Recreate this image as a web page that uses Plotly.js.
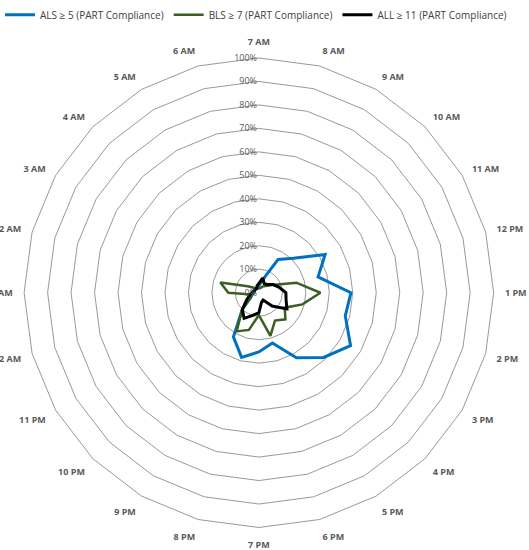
<!DOCTYPE html>
<html>
<head>
<meta charset="utf-8">
<script src="https://cdn.plot.ly/plotly-3.0.1.min.js"></script>
<style>html,body{margin:0;padding:0;background:#fff;}#chart{width:529px;height:550px;}</style>
</head>
<body>
<div id="chart"></div>
<script>
const hours = ['7 AM','8 AM','9 AM','10 AM','11 AM','12 PM','1 PM','2 PM','3 PM','4 PM','5 PM','6 PM',
               '7 PM','8 PM','9 PM','10 PM','11 PM','12 AM','1 AM','2 AM','3 AM','4 AM','5 AM','6 AM'];
const alsValues = [3, 5.5, 16.4, 20.8, 32.6, 26.1, 39.2, 38.1, 45.1, 39, 32, 22.2,
                   25.2, 28.5, 21.7, 10, 4, 3, 2, 2, 2, 2, 2, 2];
const blsValues = [2, 2, 3, 4, 6.5, 16.5, 26.2, 19.2, 12.7, 16, 13.7, 19,
                   9.5, 16.4, 19, 10, 4, 3, 13, 17, 5.5, 3, 2, 2];
const allValues = [4, 6.5, 4.5, 5, 7, 9, 11.5, 12, 13.8, 8, 3.6, 4.3,
                   8.5, 10, 12.6, 10, 6, 4, 3, 2.5, 2, 2, 2, 3];
const seriesNames = ['ALS \u2265 5 (PART Compliance)', 'BLS \u2265 7 (PART Compliance)', 'ALL \u2265 11 (PART Compliance)'];
const radialTicks = [0,10,20,30,40,50,60,70,80,90,100];

const colors = ['#0070C0', '#3A5F22', '#000000'];
const widths = [3, 2.5, 3];
const data = [alsValues, blsValues, allValues].map((vals, i) => ({
  type: 'scatterpolar',
  mode: 'lines',
  name: seriesNames[i],
  r: vals.concat([vals[0]]),
  theta: hours.concat([hours[0]]),
  line: {color: colors[i], width: widths[i]},
  hoverinfo: 'skip'
}));

const W = 529, H = 550;
const cx = 256.3, cy = 291.8, R = 237;
const layout = {
  width: W, height: H,
  margin: {l: 0, r: 0, t: 0, b: 0},
  paper_bgcolor: '#fff',
  font: {family: 'Open Sans, Liberation Sans, sans-serif', color: '#595959'},
  showlegend: true,
  legend: {
    orientation: 'h', x: -0.01, xanchor: 'left', y: 1.003, yanchor: 'top',
    font: {size: 10, color: '#404040', family: 'Open Sans, sans-serif'},
    itemwidth: 30,
    bgcolor: 'rgba(0,0,0,0)'
  },
  polar: {
    domain: {x: [(cx - R) / W, (cx + R) / W], y: [(H - cy - R) / H, (H - cy + R) / H]},
    gridshape: 'linear',
    bgcolor: '#fff',
    angularaxis: {
      direction: 'clockwise', rotation: 90,
      categoryorder: 'array', categoryarray: hours,
      showgrid: false, showline: true, linecolor: '#999999', linewidth: 1,
      ticks: 'outside', ticklen: 9, tickcolor: 'rgba(0,0,0,0)',
      tickfont: {size: 9, color: '#595959', family: 'Open Sans, sans-serif', weight: 'bold'}
    },
    radialaxis: {
      range: [0, 100], angle: 90, tickangle: 90,
      tickvals: radialTicks, ticktext: radialTicks.map(v => v + '%'),
      showline: false, ticks: '', showgrid: true, gridcolor: '#999999', gridwidth: 1,
      tickfont: {size: 9, color: '#595959'}, side: 'counterclockwise'
    }
  }
};
Plotly.newPlot('chart', data, layout, {displayModeBar: false, staticPlot: true});
</script>
</body>
</html>
